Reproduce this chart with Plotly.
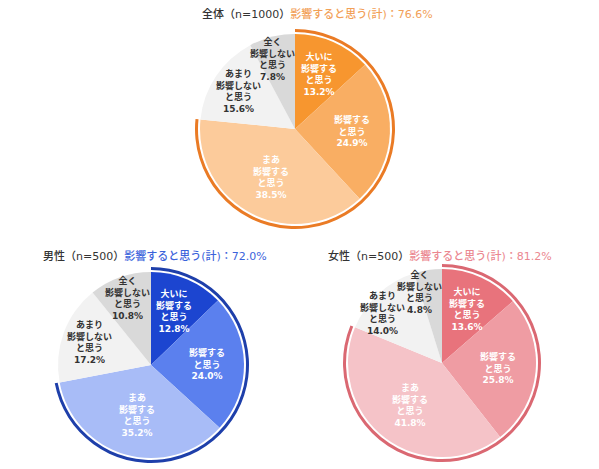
import plotly.graph_objects as go
import math

# ---- data ----
categories = ["大いに<br>影響する<br>と思う", "影響する<br>と思う", "まあ<br>影響する<br>と思う",
              "あまり<br>影響しない<br>と思う", "全く<br>影響しない<br>と思う"]
total_values = [13.2, 24.9, 38.5, 15.6, 7.8]
male_values = [12.8, 24.0, 35.2, 17.2, 10.8]
female_values = [13.6, 25.8, 41.8, 14.0, 4.8]
group_names = ["全体（n=1000）", "男性（n=500）", "女性（n=500）"]
sum_label = "影響すると思う(計)："

# ---- style ----
W, H = 599, 469
FONT = "DejaVu Sans, Noto Sans CJK JP"
charts = [
    dict(vals=total_values, name=group_names[0], cx=295, cy=129, r=95, tx=200, ty=14,
         colors=["#F7962F", "#F9AE63", "#FCCB9B", "#F2F2F2", "#D9D9D9"],
         arc="#EA7B25", title_col="#F2A057"),
    dict(vals=male_values, name=group_names[1], cx=151, cy=365, r=93, tx=41, ty=256,
         colors=["#1C45D0", "#5B80EE", "#A8BCF7", "#F2F2F2", "#D9D9D9"],
         arc="#1E3FAA", title_col="#3B63DB"),
    dict(vals=female_values, name=group_names[2], cx=442, cy=363, r=94, tx=326, ty=256,
         colors=["#E8737C", "#EF9CA3", "#F5C3C8", "#F2F2F2", "#D9D9D9"],
         arc="#DA6872", title_col="#EB8790"),
]
label_rf = [0.63, 0.6, 0.57, 0.71, 0.76]
label_col = ["white", "white", "white", "#333333", "#333333"]
LABEL_SIZE = 9
LAST_HALF_W = 22   # half width of widest line of the last-slice label, px
NEIGHBOR_DX = 37   # min horizontal gap between the two grey labels when stacked closely

fig = go.Figure()
annotations = []
for c in charts:
    cx, cy, r = c["cx"], c["cy"], c["r"]
    fig.add_trace(go.Pie(
        values=c["vals"], labels=[s.replace("<br>", "") for s in categories],
        sort=False, direction="clockwise", rotation=0,
        marker=dict(colors=c["colors"], line=dict(width=0)),
        textinfo="none", hoverinfo="skip", showlegend=False,
        domain=dict(x=[(cx - r) / W, (cx + r) / W], y=[1 - (cy + r) / H, 1 - (cy - r) / H]),
    ))
    pos_sum = round(sum(c["vals"][:3]), 1)
    R = r + 5
    fig.add_trace(go.Pie(
        values=[pos_sum, round(100 - pos_sum, 1)], labels=["a", "b"],
        sort=False, direction="clockwise", rotation=0, hole=(r + 2) / R,
        marker=dict(colors=[c["arc"], "rgba(0,0,0,0)"], line=dict(width=0)),
        textinfo="none", hoverinfo="skip", showlegend=False,
        domain=dict(x=[(cx - R) / W, (cx + R) / W], y=[1 - (cy + R) / H, 1 - (cy - R) / H]),
    ))
    cum = 0.0
    tot = sum(c["vals"])
    n = len(c["vals"])
    pts = []
    for i, v in enumerate(c["vals"]):
        mid = (cum + v / 2) / tot * 2 * math.pi
        cum += v
        pts.append([cx + label_rf[i] * r * math.sin(mid), cy - label_rf[i] * r * math.cos(mid)])
    # keep the last (top-left) label left of the 12 o'clock boundary
    pts[n - 1][0] = min(pts[n - 1][0], cx - 1 - LAST_HALF_W)
    # avoid collision between the two grey labels when they sit close vertically
    if abs(pts[n - 2][1] - pts[n - 1][1]) < 30:
        pts[n - 2][0] = min(pts[n - 2][0], pts[n - 1][0] - NEIGHBOR_DX)
    for i, v in enumerate(c["vals"]):
        px, py = pts[i]
        annotations.append(dict(
            x=px / W, y=1 - py / H, xref="paper", yref="paper", showarrow=False,
            text=f"{categories[i]}<br>{v:.1f}%", align="center",
            font=dict(family=FONT, size=LABEL_SIZE, color=label_col[i], weight=600),
            xanchor="center", yanchor="middle",
        ))
    annotations.append(dict(
        x=c["tx"] / W, y=1 - c["ty"] / H, xref="paper", yref="paper", showarrow=False,
        xanchor="left", yanchor="middle",
        text=f"<span style='color:#333333'>{c['name']}</span>"
             f"<span style='color:{c['title_col']}'>{sum_label}{pos_sum:.1f}%</span>",
        font=dict(family=FONT, size=11, weight=500),
    ))

fig.update_layout(width=W, height=H, margin=dict(l=0, r=0, t=0, b=0),
                  paper_bgcolor="white", plot_bgcolor="white",
                  annotations=annotations)
fig.write_html("out.html", config={"displayModeBar": False},
               post_script="document.body.style.margin='0px';")
